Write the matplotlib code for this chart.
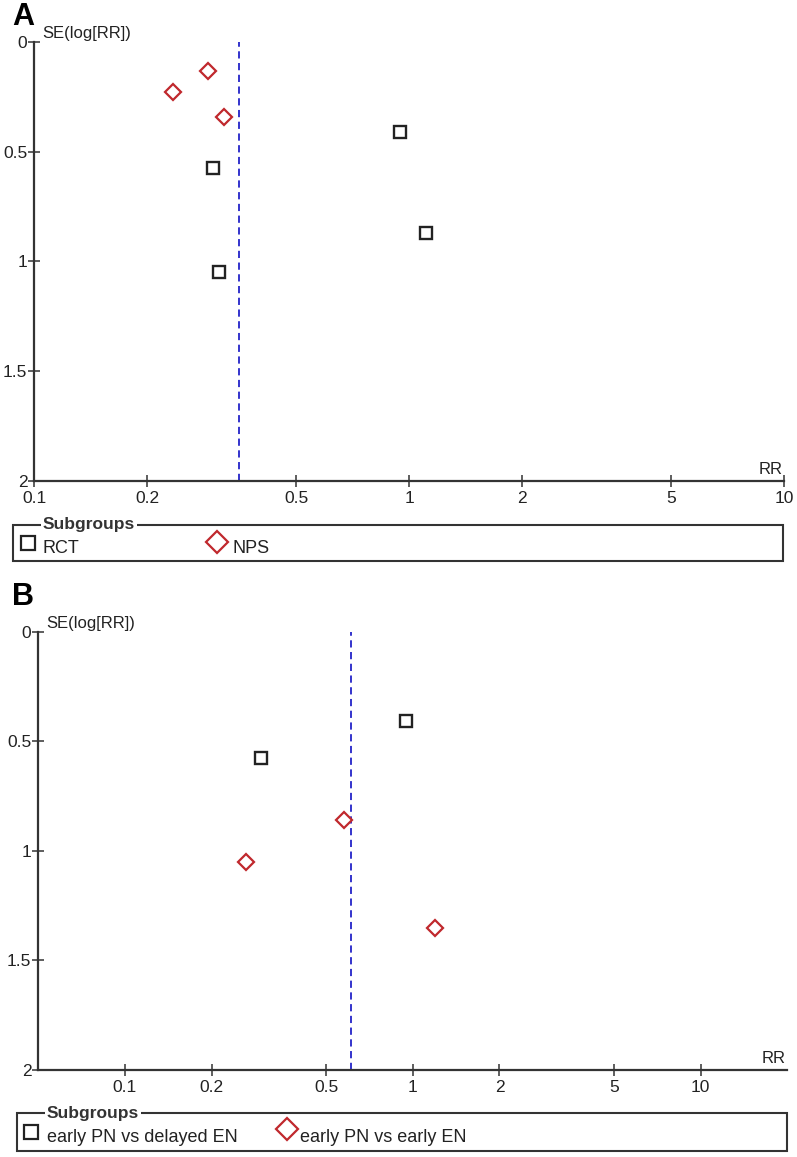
"""
funnel plots (A: study design subgroups, B: comparison subgroups)
"""
import matplotlib.pyplot as plt
from matplotlib.patches import Rectangle
from matplotlib.lines import Line2D

plt.rcParams["font.family"] = ["Liberation Sans", "DejaVu Sans"]

W, H = 797, 1157

# data -- panel A
a_rct_rr = [0.946, 0.299, 1.105, 0.311]
a_rct_se = [0.410, 0.576, 0.872, 1.047]
a_nps_rr = [0.290, 0.235, 0.321]
a_nps_se = [0.132, 0.228, 0.341]
a_pooled = 0.351
a_labels = ["RCT", "NPS"]

# data -- panel B
b_del_rr = [0.946, 0.298]
b_del_se = [0.407, 0.575]
b_early_rr = [0.579, 0.264, 1.197]
b_early_se = [0.859, 1.052, 1.350]
b_pooled = 0.612
b_labels = ["early PN vs delayed EN", "early PN vs early EN"]

x_ticks = [0.1, 0.2, 0.5, 1, 2, 5, 10]
y_ticks = [0, 0.5, 1, 1.5, 2]

AX_COL = "#333333"
SQ_COL = "#222222"
DM_COL = "#c0282d"
LINE_COL = "#2323c8"


def fx(px):
    return px / W


def fy(py):
    return 1 - py / H


def funnel(ax, sq_x, sq_y, dm_x, dm_y, pooled, xlim):
    ax.axvline(pooled, color=LINE_COL, lw=1.3, dashes=(4, 2.5))
    ax.plot(sq_x, sq_y, "s", ms=9, mfc="white", mec=SQ_COL, mew=1.7, ls="none")
    ax.plot(dm_x, dm_y, "D", ms=8.3, mfc="white", mec=DM_COL, mew=1.6, ls="none")
    ax.set_xscale("log")
    ax.set_xlim(xlim)
    ax.set_ylim(2, 0)
    ax.set_xticks(x_ticks)
    ax.set_xticklabels([f"{t:g}" for t in x_ticks])
    ax.minorticks_off()
    ax.set_yticks(y_ticks)
    ax.set_yticklabels([f"{t:g}" for t in y_ticks])
    for s in ("top", "right"):
        ax.spines[s].set_visible(False)
    for s in ("left", "bottom"):
        ax.spines[s].set_color(AX_COL)
        ax.spines[s].set_linewidth(1.6)
    ax.tick_params(direction="inout", length=8, width=1.1, color=AX_COL,
                   labelsize=12.5, labelcolor="#222222")
    ax.tick_params(axis="x", pad=3)
    ax.tick_params(axis="y", pad=1)
    ax.annotate("SE(log[RR])", (0, 1), xycoords="axes fraction",
                xytext=(6, 6), textcoords="offset points",
                ha="left", va="center", fontsize=12, color="#222222")
    ax.annotate("RR", (1, 0), xycoords="axes fraction",
                xytext=(-1, 8), textcoords="offset points",
                ha="right", va="center", fontsize=12, color="#222222")


def legend_box(fig, box, title_x, title_y, items):
    l, t, r, b = box
    fig.add_artist(Rectangle((fx(l), fy(b)), fx(r) - fx(l), fy(t) - fy(b),
                             transform=fig.transFigure, fill=False,
                             ec=AX_COL, lw=1.5))
    fig.text(fx(title_x), fy(title_y), "Subgroups", ha="left", va="center",
             fontsize=12.5, fontweight="bold", color="#333333",
             bbox=dict(fc="white", ec="none", pad=1.5))
    for marker, ms, col, mx, my, label, tx, ty in items:
        fig.add_artist(Line2D([fx(mx)], [fy(my)], marker=marker, ms=ms,
                              mfc="white", mec=col, mew=1.6, ls="none",
                              transform=fig.transFigure))
        fig.text(fx(tx), fy(ty), label, ha="left", va="center",
                 fontsize=13, color="#222222")


fig = plt.figure(figsize=(W / 100, H / 100), dpi=100)

# panel A
ax_a = fig.add_axes([fx(34.3), fy(481), fx(784.3) - fx(34.3), fy(41.7) - fy(481)])
funnel(ax_a, a_rct_rr, a_rct_se, a_nps_rr, a_nps_se, a_pooled, (0.1, 10))
fig.text(fx(12), fy(17), "A", fontsize=22, fontweight="bold", va="center", ha="left")
legend_box(fig, (13, 525, 783, 561), 43, 525, [
    ("s", 10.5, SQ_COL, 28, 543, a_labels[0], 43, 548),
    ("D", 11.5, DM_COL, 217, 542, a_labels[1], 232, 548),
])

# panel B
ax_b = fig.add_axes([fx(38.3), fy(1070), fx(787.3) - fx(38.3), fy(631.7) - fy(1070)])
funnel(ax_b, b_del_rr, b_del_se, b_early_rr, b_early_se, b_pooled, (0.05, 20))
fig.text(fx(12), fy(597), "B", fontsize=22, fontweight="bold", va="center", ha="left")
legend_box(fig, (16.7, 1113.3, 786.7, 1151), 47, 1113.3, [
    ("s", 10.5, SQ_COL, 31, 1132, b_labels[0], 47, 1138),
    ("D", 11.5, DM_COL, 287, 1129, b_labels[1], 300, 1138),
])

plt.savefig("out.png", dpi=100, facecolor="white")
